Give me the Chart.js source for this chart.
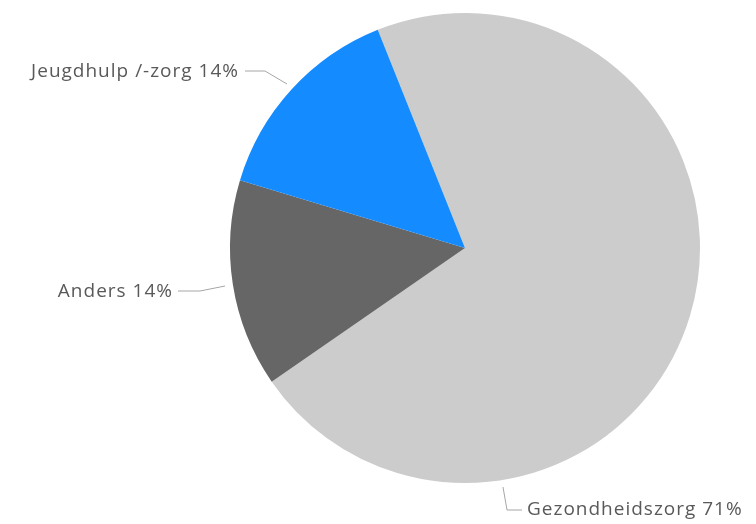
<!DOCTYPE html>
<html>
<head>
<meta charset="utf-8">
<script src="https://cdn.jsdelivr.net/npm/chart.js@4"></script>
<style>
  html, body { margin: 0; padding: 0; background: #fff; }
  #wrap { width: 756px; height: 524px; position: relative; }
</style>
</head>
<body>
<div id="wrap"><canvas id="pieChart"></canvas></div>
<script>
// categories and values (clockwise, starting at the top-left edge)
const categories = ['Gezondheidszorg', 'Anders', 'Jeugdhulp /-zorg'];
const values = [10, 2, 2];
const colors = ['#cccccc', '#666666', '#148cff'];

// label placement: text anchor + leader line points (relative to pie center)
const labelLayout = [
  { align: 'left',  text: [62, 262],   line: [[57, 262], [42, 262], [38, 239]] },
  { align: 'right', text: [-293, 44],  line: [[-287, 43], [-265, 43], [-240, 38]] },
  { align: 'right', text: [-227, -176], line: [[-220, -177], [-200, -177], [-178, -164]] }
];

const total = values.reduce((a, b) => a + b, 0);

const pieLabels = {
  id: 'pieLabels',
  afterDraw(chart) {
    const ctx = chart.ctx;
    const arc = chart.getDatasetMeta(0).data[0];
    const cx = arc.x, cy = arc.y;
    ctx.save();
    ctx.font = '19px "Open Sans"';
    ctx.textBaseline = 'middle';
    values.forEach((v, i) => {
      const l = labelLayout[i];
      ctx.strokeStyle = '#a6a6a6';
      ctx.lineWidth = 1;
      ctx.beginPath();
      l.line.forEach((p, j) => {
        if (j === 0) ctx.moveTo(cx + p[0], cy + p[1]);
        else ctx.lineTo(cx + p[0], cy + p[1]);
      });
      ctx.stroke();
      const pct = Math.round(v / total * 100);
      const str = categories[i] + ' ' + pct + '%';
      ctx.fillStyle = '#595959';
      ctx.textAlign = 'left';
      ctx.letterSpacing = '1px';
      const w = ctx.measureText(str).width - 1;
      const x = l.align === 'left' ? cx + l.text[0] : cx + l.text[0] - w;
      ctx.fillText(str, x, cy + l.text[1]);
    });
    ctx.restore();
  }
};

const ctx = document.getElementById('pieChart').getContext('2d');
new Chart(ctx, {
  type: 'pie',
  data: {
    labels: categories,
    datasets: [{
      data: values,
      backgroundColor: colors,
      borderWidth: 0
    }]
  },
  options: {
    responsive: true,
    maintainAspectRatio: false,
    animation: false,
    rotation: -21.8,
    layout: {
      padding: { left: 230, right: 56, top: 13, bottom: 41 }
    },
    plugins: {
      legend: { display: false },
      tooltip: { enabled: false }
    }
  },
  plugins: [pieLabels]
});
</script>
</body>
</html>
